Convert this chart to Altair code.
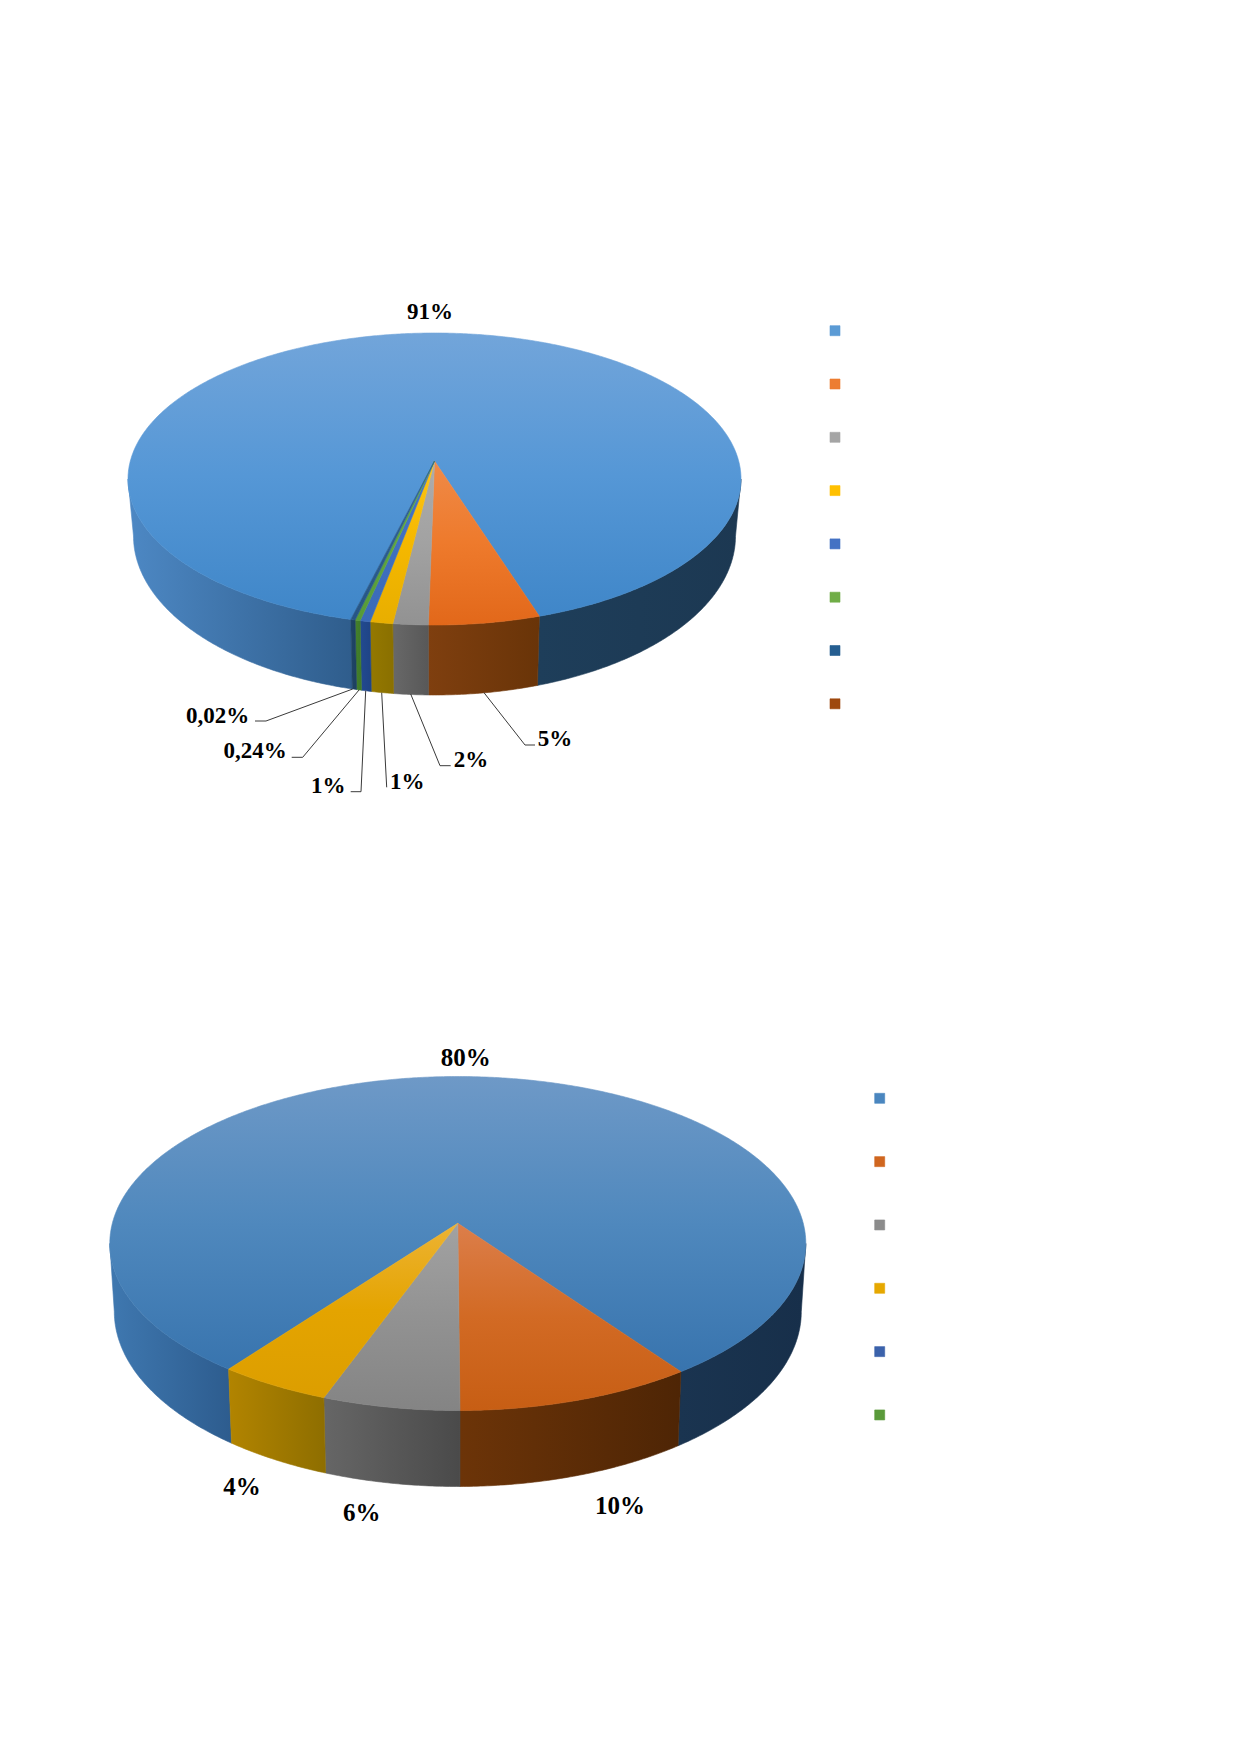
import math
import altair as alt

W, H = 1223, 1730

top_series = [91.17, 5.21, 1.64, 1.06, 0.475, 0.235, 0.21]
top_labels = ["91%", "5%", "2%", "1%", "1%", "0,24%", "0,02%"]
bottom_series = [79.89, 9.8, 5.67, 4.64]
bottom_labels = ["80%", "10%", "6%", "4%"]

top_surface = [
    ["#72a5da", "#5597d6", "#3f86c8"],
    ["#ef8a48", "#ee7a2c", "#e2681a"],
    ["#acacac", "#a2a2a2", "#929292"],
    ["#fdc414", "#f5b800", "#e8ae00"],
    ["#4372c4", "#4070c0", "#3a6ab8"],
    ["#62ab44", "#5fa63f", "#569a38"],
    ["#2b5f92", "#2a5c8e", "#265585"],
]
top_wall = [
    ["#4d88c4", "#2f5d8c"],
    ["#7f3f0f", "#693408"],
    ["#686868", "#585858"],
    ["#947800", "#8a7000"],
    ["#224a90", "#1f4485"],
    ["#447f2c", "#3f7a28"],
    ["#1f4566", "#1d4060"],
]
top_right_wall = ["#1e3e5a", "#1c3852"]
top_legend = ["#5b9bd5", "#ed7d31", "#a5a5a5", "#ffc000", "#4472c4", "#70ad47", "#255e91", "#9e480e"]

bottom_surface = [
    ["#6e99c7", "#4f88bd", "#3874ae"],
    ["#dc7e4a", "#d26a24", "#c75e14"],
    ["#a2a2a2", "#929292", "#848484"],
    ["#edb334", "#e4a400", "#dc9e00"],
]
bottom_wall = [
    ["#3f78b0", "#2d5c8e"],
    ["#6c3408", "#4e2505"],
    ["#666666", "#4a4a4a"],
    ["#b28400", "#8e6e00"],
]
bottom_right_wall = ["#1a3450", "#172f4a"]
bottom_legend = ["#4a86bf", "#d0661f", "#8c8c8c", "#e6a800", "#3b62ab", "#5a9a3a"]


def rim_t(phi, k):
    phi = (phi + 180.0) % 360.0 - 180.0
    return 2 * math.degrees(math.atan(k * math.tan(math.radians(phi) / 2)))


def gradient(colors, horizontal):
    n = len(colors) - 1
    return {
        "gradient": "linear",
        "x1": 0, "y1": 0,
        "x2": 1 if horizontal else 0,
        "y2": 0 if horizontal else 1,
        "stops": [{"offset": i / n, "color": c} for i, c in enumerate(colors)],
    }


def feature(kind, coords):
    return {"type": "Feature", "properties": {},
            "geometry": {"type": kind, "coordinates": coords}}


def shape(coords, fill):
    return alt.Chart(alt.Data(values=[feature("Polygon", [coords + [coords[0]]])])).mark_geoshape(
        fill=fill, stroke=fill, strokeWidth=0.6
    ).project(type="identity", scale=1, translate=[0, 0])


def pie(series, surface, wall, right_wall, g):
    cx, ay, cy, a, b, cy2, a2, b2, start = g
    k = 1.13
    def p(t):
        r = math.radians(t)
        return [cx + a * math.sin(r), cy + b * math.cos(r)]
    def q(t):
        r = math.radians(t)
        return [cx + a2 * math.sin(r), cy2 + b2 * math.cos(r)]

    # clockwise sweep: the first series takes whatever closes the circle
    spans = []
    phi = start
    for v in series[1:]:
        spans.append((phi, phi - v * 3.6))
        phi -= v * 3.6
    spans.insert(0, (phi, start - 360.0))

    walls, tops = [], []
    for i, (p0, p1) in enumerate(spans):
        n = max(4, int(abs(p0 - p1) / 0.5))
        phis = [p0 + (p1 - p0) * j / n for j in range(n + 1)]
        ts = [rim_t(x, k) for x in phis]
        tops.append(shape([[cx, ay]] + [p(t) for t in ts], gradient(surface[i], False)))
        if i == 0:
            left = [t for t in ts if -90 <= t < 0] + [-90.0]
            left = sorted(set(left))
            right = sorted(set([t for t in ts if 0 < t <= 90] + [90.0]))
            walls.append(shape([p(t) for t in left] + [q(t) for t in reversed(left)],
                               gradient(wall[0], True)))
            walls.append(shape([p(t) for t in right] + [q(t) for t in reversed(right)],
                               gradient(right_wall, True)))
        else:
            walls.append(shape([p(t) for t in ts] + [q(t) for t in reversed(ts)],
                               gradient(wall[i], True)))
    return walls + [tops[0]] + tops[1:]


layers = []
#        cx     apexY   cy      a      b    cy2     a2     b2   start
top_g = (426.5, 453, 471, 306.5, 146, 528, 301, 159, 17.74)
bot_g = (449.8, 1215.3, 1235.5, 348, 167, 1303.5, 343.5, 175, 35.6)
layers += pie(top_series, top_surface, top_wall, top_right_wall, top_g)
layers += pie(bottom_series, bottom_surface, bottom_wall, bottom_right_wall, bot_g)

# legend swatches (their captions are blank in the source)
for i, c in enumerate(top_legend):
    x, y = 827, 322.7 + i * 53.3
    layers.append(shape([[x - 5, y - 5], [x + 5, y - 5], [x + 5, y + 5], [x - 5, y + 5]], c))
for i, c in enumerate(bottom_legend):
    x, y = 871.7, 1090.3 + i * 63.33
    layers.append(shape([[x - 5, y - 5], [x + 5, y - 5], [x + 5, y + 5], [x - 5, y + 5]], c))

# leader lines of the top pie
leaders = [
    [[527, 737], [517, 737], [476, 684.7]],
    [[442.7, 757.7], [432, 757.7], [402.7, 686]],
    [[378.7, 779.3], [373.7, 684.7]],
    [[342.7, 783.7], [353, 783.7], [357.7, 682.7]],
    [[283.7, 749.3], [294.7, 749.3], [351, 682]],
    [[247, 713], [258, 713], [344.7, 681]],
]
layers.append(
    alt.Chart(alt.Data(values=[feature("LineString", l) for l in leaders])).mark_geoshape(
        filled=False, stroke="#3a3a3a", strokeWidth=1
    ).project(type="identity", scale=1, translate=[0, 0])
)

top_pos = [(422, 304), (547, 731), (463, 752), (399.3, 773.7), (320.3, 778), (247, 743), (209.7, 708)]
bot_pos = [(457.7, 1049.5), (612, 1498), (353.8, 1505), (233.9, 1479)]
rows_top = [{"lon": p[0], "lat": p[1], "label": t} for p, t in zip(top_pos, top_labels)]
rows_bot = [{"lon": p[0], "lat": p[1], "label": t} for p, t in zip(bot_pos, bottom_labels)]

for rows, size in ((rows_top, 23), (rows_bot, 25)):
    layers.append(
        alt.Chart(alt.Data(values=rows)).mark_text(
            font="Liberation Serif", fontWeight="bold", fontSize=size, color="#000000",
            align="center", baseline="middle"
        ).encode(longitude="lon:Q", latitude="lat:Q", text="label:N")
        .project(type="identity", scale=1, translate=[0, 0])
    )

chart = alt.layer(*layers).properties(width=W, height=H, padding=0).configure_view(stroke=None)
chart.save("out.html", embed_options={"renderer": "svg", "actions": False})
